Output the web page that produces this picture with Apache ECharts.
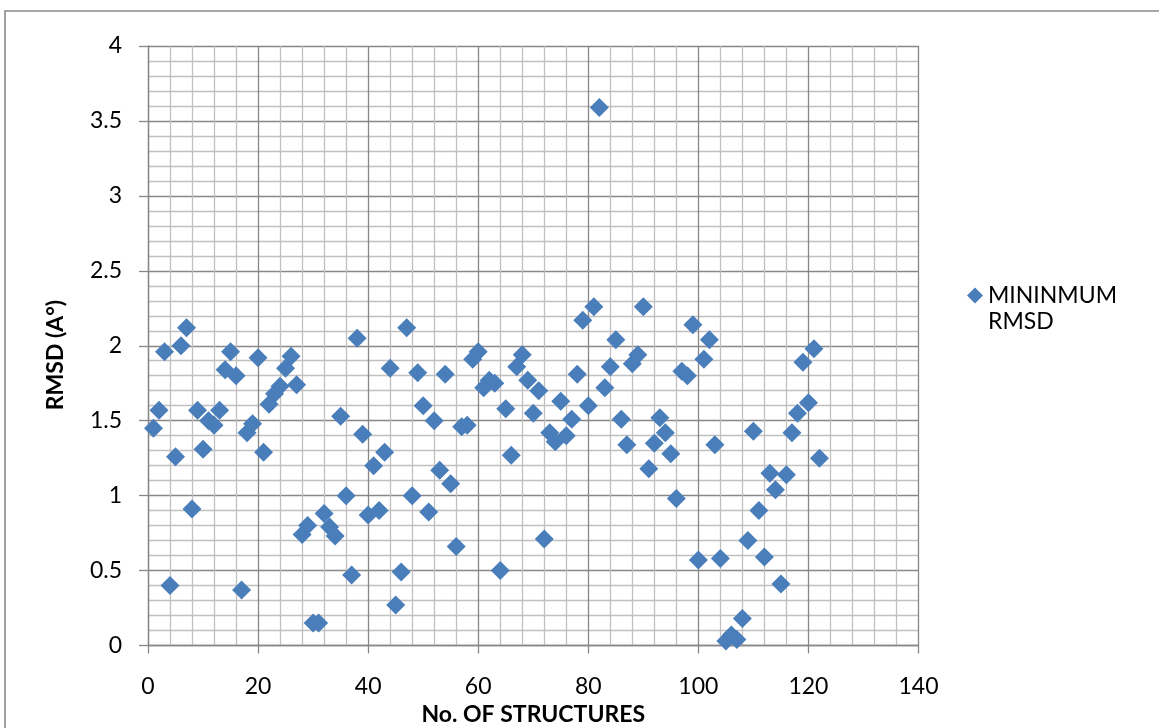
<!DOCTYPE html>
<html>
<head>
<meta charset="utf-8">
<script src="https://cdn.jsdelivr.net/npm/echarts@6/dist/echarts.min.js"></script>
<style>
  html, body { margin: 0; padding: 0; background: #fff; }
  #chart { width: 1159px; height: 728px; }
</style>
</head>
<body>
<div id="chart"></div>
<script>
// Structure numbers (x) and minimum RMSD values (y)
const structures = [
  1, 2, 3, 4, 5, 6, 7, 8, 9, 10,
  11, 12, 13, 14, 15, 16, 17, 18, 19, 20,
  21, 22, 23, 24, 25, 26, 27, 28, 29, 30,
  31, 32, 33, 34, 35, 36, 37, 38, 39, 40,
  41, 42, 43, 44, 45, 46, 47, 48, 49, 50,
  51, 52, 53, 54, 55, 56, 57, 58, 59, 60,
  61, 62, 63, 64, 65, 66, 67, 68, 69, 70,
  71, 72, 73, 74, 75, 76, 77, 78, 79, 80,
  81, 82, 83, 84, 85, 86, 87, 88, 89, 90,
  91, 92, 93, 94, 95, 96, 97, 98, 99, 100,
  101, 102, 103, 104, 105, 106, 107, 108, 109, 110,
  111, 112, 113, 114, 115, 116, 117, 118, 119, 120,
  121, 122
];
const minRmsd = [
  1.45, 1.57, 1.96, 0.40, 1.26, 2.00, 2.12, 0.91, 1.57, 1.31,
  1.50, 1.47, 1.57, 1.84, 1.96, 1.80, 0.37, 1.42, 1.48, 1.92,
  1.29, 1.61, 1.68, 1.73, 1.85, 1.93, 1.74, 0.74, 0.80, 0.15,
  0.15, 0.88, 0.79, 0.73, 1.53, 1.00, 0.47, 2.05, 1.41, 0.87,
  1.20, 0.90, 1.29, 1.85, 0.27, 0.49, 2.12, 1.00, 1.82, 1.60,
  0.89, 1.50, 1.17, 1.81, 1.08, 0.66, 1.46, 1.47, 1.91, 1.96,
  1.72, 1.77, 1.75, 0.50, 1.58, 1.27, 1.86, 1.94, 1.77, 1.55,
  1.70, 0.71, 1.42, 1.36, 1.63, 1.40, 1.51, 1.81, 2.17, 1.60,
  2.26, 3.59, 1.72, 1.86, 2.04, 1.51, 1.34, 1.88, 1.94, 2.26,
  1.18, 1.35, 1.52, 1.42, 1.28, 0.98, 1.83, 1.80, 2.14, 0.57,
  1.91, 2.04, 1.34, 0.58, 0.03, 0.07, 0.04, 0.18, 0.70, 1.43,
  0.90, 0.59, 1.15, 1.04, 0.41, 1.14, 1.42, 1.55, 1.89, 1.62,
  1.98, 1.25
];
const seriesName = 'MININMUM RMSD';
const legendLines = ['MININMUM', 'RMSD'];
const xTitle = 'No. OF STRUCTURES';
const yTitle = 'RMSD (A°)';

const points = structures.map((s, i) => [s, minRmsd[i]]);

const FONT = 'Lato';
const majorColor = '#878787';
const minorColor = '#C0C0C0';

const chart = echarts.init(document.getElementById('chart'), null, { renderer: 'canvas' });
chart.setOption({
  animation: false,
  backgroundColor: '#fff',
  grid: { left: 148, top: 46, right: 240.5, bottom: 82.5, containLabel: false, outerBoundsMode: 'none' },
  legend: {
    left: 967, top: 284, padding: 0,
    icon: 'diamond', itemWidth: 16, itemHeight: 16,
    formatter: () => legendLines[0],
    textStyle: { fontFamily: FONT, fontSize: 23, color: '#000' },
    data: [seriesName]
  },
  xAxis: {
    type: 'value', min: 0, max: 140, interval: 20,
    name: xTitle, nameLocation: 'middle', nameGap: 56,
    nameTextStyle: { fontFamily: FONT, fontSize: 23, fontWeight: 'bold', color: '#000' },
    axisLine: { show: true, onZero: false, lineStyle: { color: majorColor, width: 1.3 } },
    axisTick: { show: true, inside: false, length: 8, lineStyle: { color: majorColor, width: 1.3 } },
    axisLabel: { fontFamily: FONT, fontSize: 23, color: '#000', margin: 30 },
    splitLine: { show: true, lineStyle: { color: majorColor, width: 1.3 } },
    minorTick: { show: false, splitNumber: 5 },
    minorSplitLine: { show: true, lineStyle: { color: minorColor, width: 1.3 } }
  },
  yAxis: {
    type: 'value', min: 0, max: 4, interval: 0.5,
    axisLine: { show: true, lineStyle: { color: majorColor, width: 1.3 } },
    axisTick: { show: true, inside: false, length: 9, lineStyle: { color: majorColor, width: 1.3 } },
    axisLabel: { fontFamily: FONT, fontSize: 23, color: '#000', margin: 26 },
    splitLine: { show: true, lineStyle: { color: majorColor, width: 1.3 } },
    minorTick: { show: false, splitNumber: 5 },
    minorSplitLine: { show: true, lineStyle: { color: minorColor, width: 1.3 } }
  },
  series: [{
    name: seriesName,
    type: 'scatter',
    symbol: 'diamond',
    symbolSize: 19,
    itemStyle: { color: '#4A7EBB', opacity: 1 },
    data: points
  }],
  graphic: [
    {
      type: 'rect', silent: true, z: -10,
      shape: { x: 5, y: 11, width: 1400, height: 1000 },
      style: { fill: 'none', stroke: '#8A8A8A', lineWidth: 1.6 }
    },
    {
      type: 'text', left: 988, top: 310, silent: true,
      style: { text: legendLines[1], fontFamily: FONT, fontSize: 23, fill: '#000' }
    },
    {
      type: 'text', x: 56, y: 355, rotation: Math.PI / 2, silent: true,
      style: { text: yTitle, fontFamily: FONT, fontSize: 23, fontWeight: 'bold', fill: '#000',
               align: 'center', verticalAlign: 'middle' }
    }
  ]
});
</script>
</body>
</html>
